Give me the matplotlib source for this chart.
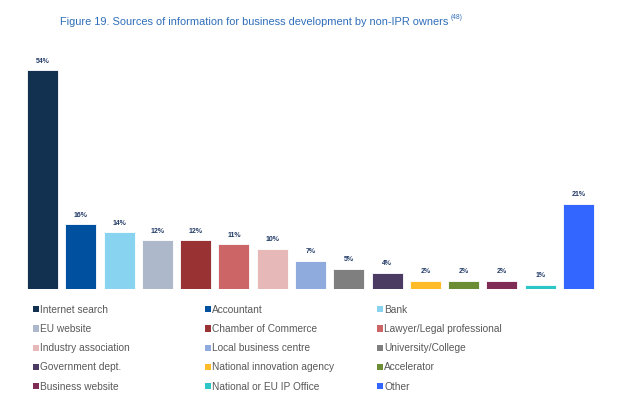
import matplotlib.pyplot as plt
from matplotlib.patches import Patch

plt.rcParams['font.family'] = ['Liberation Sans', 'DejaVu Sans']

# data
categories = ['Internet search', 'Accountant', 'Bank', 'EU website',
              'Chamber of Commerce', 'Lawyer/Legal professional',
              'Industry association', 'Local business centre',
              'University/College', 'Government dept.',
              'National innovation agency', 'Accelerator',
              'Business website', 'National or EU IP Office', 'Other']
values = [54, 16, 14, 12, 12, 11, 10, 7, 5, 4, 2, 2, 2, 1, 21]
colors = ['#12304F', '#0050A0', '#87D3F0', '#ADB9CA', '#993333',
          '#CC6666', '#E6B8B8', '#8FAADC', '#7F7F7F', '#4B3A62',
          '#FFBB28', '#6B8E35', '#7F2C57', '#2CC6C6', '#3366FF']

W, H = 624, 413
fig = plt.figure(figsize=(W / 100, H / 100), dpi=100)

# axes placed in pixel terms (from top)
left, right, top, bottom = 23.4, 597.6, 46.0, 289.0
ax = fig.add_axes([left / W, 1 - bottom / H, (right - left) / W, (bottom - top) / H])

x = range(len(values))
ax.bar(x, values, width=0.81, color=colors, edgecolor='white', linewidth=0.6)
for i, v in enumerate(values):
    ax.annotate(f'{v}%', (i, v), xytext=(0, 4), textcoords='offset points',
                ha='center', va='bottom', fontsize=5, fontweight='bold',
                color='#1F3864')

ax.set_xlim(-0.5, len(values) - 0.5)
ax.set_ylim(0, 60)
ax.axis('off')

title = fig.text(60 / W, 1 - 25 / H,
                 'Figure 19. Sources of information for business development by non-IPR owners',
                 fontsize=7.95, color='#2F6EBA', ha='left', va='baseline')
fig.canvas.draw()
ax.annotate('(48)', xy=(1, 0), xycoords=title, xytext=(1.5, 4.5),
            textcoords='offset points', fontsize=4.8, color='#2F6EBA',
            ha='left', va='bottom')

# legend, row-wise in three columns
col_x = [33, 205, 377]
for c in range(3):
    idx = list(range(c, len(categories), 3))
    handles = [Patch(facecolor=colors[i], edgecolor='none') for i in idx]
    fig.legend(handles, [categories[i] for i in idx],
               loc='upper left', bbox_to_anchor=(col_x[c] / W, 1 - 305 / H),
               frameon=False, fontsize=7.3, handlelength=0.55,
               handleheight=0.55, handletextpad=0.15, labelspacing=0.9,
               borderaxespad=0, borderpad=0, labelcolor='#595959')

fig.savefig('out.png', dpi=100)
